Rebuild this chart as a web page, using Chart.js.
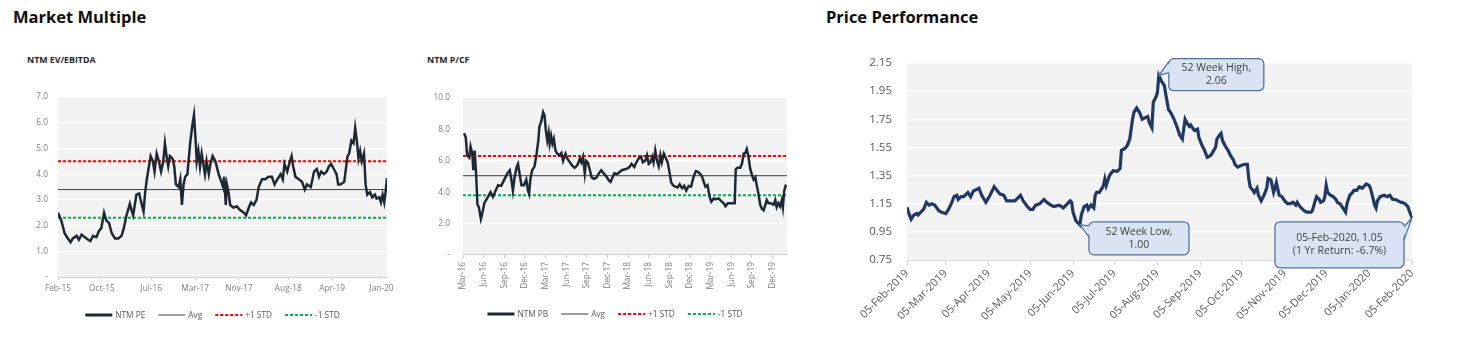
<!DOCTYPE html>
<html>
<head>
<meta charset="utf-8">
<script src="https://cdn.jsdelivr.net/npm/chart.js@4/dist/chart.umd.min.js"></script>
<style>
  body { margin: 0; width: 1462px; height: 347px; background: #fff; position: relative; overflow: hidden; font-family: "Open Sans", sans-serif; }
  .hdr { position: absolute; font-weight: 700; font-size: 16.5px; color: #0d0d0d; }
  .sub { position: absolute; font-weight: 700; font-size: 8.8px; color: #262626; }
  canvas { position: absolute; }
</style>
</head>
<body>
<div class="hdr" style="left:13px;top:5px">Market Multiple</div>
<div class="hdr" style="left:826px;top:5px">Price Performance</div>
<div class="sub" style="left:27px;top:54px">NTM EV/EBITDA</div>
<div class="sub" style="left:427px;top:54px">NTM P/CF</div>
<canvas id="evChart" width="400" height="250" style="left:0;top:80px"></canvas>
<canvas id="pcfChart" width="400" height="250" style="left:400px;top:80px"></canvas>
<canvas id="priceChart" width="662" height="307" style="left:800px;top:40px"></canvas>
<script>
// NTM EV/EBITDA, x = months since Feb-15
const evMonths = [0,0.6,1.2,1.8,2.3,2.7,3.4,3.8,4.3,4.9,5.5,5.9,6.4,7.0,7.5,7.9,8.4,8.8,9.3,9.8,
  10.4,11.0,11.6,12.0,12.5,13.1,13.4,13.7,14.3,14.8,15.3,15.6,15.9,16.2,16.5,16.9,17.3,17.6,18.0,18.4,
  18.8,19.2,19.5,19.8,20.1,20.4,20.9,21.2,21.5,22.0,22.3,22.6,22.9,23.2,23.6,24.1,24.5,24.8,25.1,25.3,
  25.6,25.9,26.2,26.5,26.8,27.1,27.5,27.8,28.2,28.7,29.3,29.8,30.1,30.3,30.6,30.8,31.1,31.4,32.0,32.6,
  33.2,33.9,34.3,34.8,35.2,35.7,36.2,36.6,37.2,37.8,38.4,39.0,39.5,40.0,40.6,41.0,41.3,41.8,42.3,42.6,
  42.9,43.3,43.9,44.5,45.0,45.4,46.1,46.7,47.2,47.6,48.0,48.5,49.0,49.4,49.8,50.3,50.8,51.1,51.5,52.2,
  52.8,53.1,53.5,53.9,54.2,54.5,54.8,55.1,55.4,55.8,56.1,56.4,56.9,57.3,57.8,58.1,58.6,58.9,59.2,59.5,
  59.8,60];
const evValues = [2.5,2.2,1.7,1.5,1.35,1.5,1.6,1.45,1.65,1.55,1.45,1.4,1.6,1.55,1.8,1.9,2.5,2.2,2.1,1.7,
  1.5,1.5,1.6,1.9,2.4,2.85,2.6,2.4,3.2,3.25,2.8,2.55,3.3,3.8,4.2,4.7,4.5,4.1,4.8,4.5,
  4.1,4.5,5.2,4.7,4.3,4.7,4.6,4.3,3.6,3.5,3.8,2.8,3.6,3.9,4.0,5.2,5.9,6.3,5.3,4.5,
  4.9,4.3,4.8,4.4,4.0,4.5,4.0,4.4,4.7,4.5,4.0,3.7,3.5,3.9,2.8,3.6,3.3,2.8,2.7,2.75,
  2.6,2.5,2.4,2.7,2.9,2.8,3.0,3.5,3.8,3.8,3.9,3.9,3.6,3.8,4.0,3.8,4.4,4.1,4.5,4.7,
  4.3,3.9,3.8,3.7,3.4,3.6,3.5,4.1,4.2,3.9,4.1,4.0,4.1,4.3,4.4,4.2,4.0,3.6,3.6,3.7,
  4.7,4.8,5.3,5.2,5.8,5.3,4.6,4.9,4.5,4.8,3.6,3.2,3.3,3.1,3.2,3.05,3.1,2.9,3.2,2.9,
  3.4,3.85];
const evTickMonths = [0, 8, 17, 25, 33, 42, 50, 59];
const evTickLabels = ['Feb-15', 'Oct-15', 'Jul-16', 'Mar-17', 'Nov-17', 'Aug-18', 'Apr-19', 'Jan-20'];
const evAvg = 3.4, evPlusStd = 4.5, evMinusStd = 2.3;

// NTM P/CF, x = months since Mar-16
const pcfMonths = [0.15,0.4,0.6,0.9,1.1,1.35,1.5,1.7,1.9,2.1,2.3,2.6,2.8,3.1,3.5,4.0,4.35,4.75,5.1,5.55,
  5.95,6.45,6.8,7.05,7.25,7.5,7.8,8.0,8.25,8.5,8.85,9.2,9.45,9.6,9.8,10.05,10.4,10.7,10.95,11.1,
  11.4,11.65,11.85,12.05,12.25,12.45,12.6,12.8,13.0,13.2,13.45,13.7,14.0,14.3,14.55,14.9,15.15,15.55,15.85,16.2,
  16.6,17.0,17.2,17.45,17.7,17.9,18.15,18.45,18.7,19.0,19.35,19.75,20.1,20.45,20.85,21.2,21.45,21.65,22.0,22.4,
  22.8,23.1,23.45,23.85,24.2,24.5,24.9,25.2,25.55,25.9,26.15,26.5,26.75,27.0,27.25,27.5,27.7,27.95,28.2,28.45,
  28.7,28.9,29.2,29.4,29.75,30.05,30.25,30.5,30.85,31.2,31.5,31.85,32.15,32.45,32.8,33.15,33.5,33.85,34.15,34.5,
  34.75,35.0,35.25,35.55,35.85,36.1,36.45,36.75,37.15,37.5,37.9,38.15,38.5,38.85,39.25,39.5,39.65,39.9,40.3,40.55,
  40.8,41.05,41.25,41.5,41.75,42.0,42.25,42.5,42.7,42.95,43.2,43.45,43.7,43.95,44.15,44.4,44.75,45.15,45.4,45.6,
  45.85,46.1,46.35,46.5,46.7,46.9,47.05];
const pcfValues = [7.75,7.5,6.35,6.2,6.9,6.45,5.4,6.65,5.2,3.2,3.05,2.3,2.65,3.3,3.6,4.0,3.7,4.1,4.45,4.4,
  4.75,5.2,5.4,4.75,4.1,4.95,5.6,5.8,5.1,4.45,4.45,4.8,4.1,3.9,4.85,5.4,5.65,6.45,7.3,8.15,
  8.55,9.1,8.9,7.9,7.3,7.8,7.1,7.6,7.1,7.4,6.65,6.45,6.35,6.5,6.0,6.45,6.15,5.9,5.7,5.55,
  5.7,6.15,5.9,6.25,5.2,6.0,5.9,5.4,4.95,4.85,4.9,5.2,5.4,5.2,5.0,4.75,4.65,4.85,5.2,5.15,
  5.3,5.4,5.45,5.5,5.6,5.8,5.6,5.9,6.15,6.25,5.9,6.0,6.35,5.8,5.9,6.25,5.9,6.65,6.0,5.65,
  6.35,5.9,6.45,6.25,5.9,5.2,4.65,4.45,4.35,4.3,4.5,4.25,4.4,4.1,4.4,4.35,4.95,5.35,5.3,5.15,
  5.0,4.65,4.35,4.45,3.7,3.4,3.6,3.55,3.6,3.45,3.3,3.1,3.3,3.3,3.3,3.3,5.45,5.55,5.55,5.8,
  6.45,6.5,6.75,6.25,5.5,5.1,4.8,4.95,4.45,3.9,3.2,2.95,2.85,3.2,3.5,3.3,3.3,3.2,3.5,3.05,
  3.3,3.1,3.5,3.05,4.1,4.4,4.35];
const pcfTickMonths = [0, 3, 6, 9, 12, 15, 18, 21, 24, 27, 30, 33, 36, 39, 42, 45];
const pcfTickLabels = ['Mar-16', 'Jun-16', 'Sep-16', 'Dec-16', 'Mar-17', 'Jun-17', 'Sep-17', 'Dec-17',
  'Mar-18', 'Jun-18', 'Sep-18', 'Dec-18', 'Mar-19', 'Jun-19', 'Sep-19', 'Dec-19'];
const pcfAvg = 5.05, pcfPlusStd = 6.3, pcfMinusStd = 3.8;

// share price, x = days since 05-Feb-2019
const priceDays = [0,1,3,5,7,8,10,12,14,16,18,20,23,25,28,30,32,34,36,37,
  39,41,43,44,46,48,49,52,54,57,60,63,65,67,70,72,75,78,82,84,
  87,89,91,93,96,99,101,104,106,110,113,116,118,119,120,122,123,125,126,128,
  130,131,133,135,136,137,139,141,142,143,144,146,147,149,152,154,155,157,159,161,
  163,164,166,168,170,172,174,175,177,178,180,181,182,
  184,186,187,189,191,193,195,197,199,200,201,202,204,205,207,208,210,211,213,215,
  217,219,220,223,224,226,227,228,230,232,234,236,237,239,241,244,246,247,248,250,
  251,253,254,256,258,260,261,263,265,266,267,269,271,273,275,277,279,281,282,284,
  287,289,292,293,295,296,298,299,301,302,303,304,306,308,310,311,313,315,317,318,
  320,322,323,325,327,329,331,332,334,335,337,338,339,340,342,345,347,349,351,353,
  355,357,358,360,362,363,365];
const priceValues = [1.125,1.09,1.04,1.07,1.08,1.07,1.09,1.11,1.16,1.14,1.15,1.14,1.10,1.09,1.08,1.11,1.15,1.20,1.21,1.18,
  1.20,1.20,1.22,1.23,1.20,1.24,1.245,1.26,1.21,1.16,1.21,1.27,1.245,1.22,1.21,1.17,1.17,1.17,1.21,1.17,
  1.13,1.11,1.11,1.14,1.15,1.18,1.16,1.14,1.13,1.14,1.12,1.15,1.17,1.16,1.09,1.03,1.02,1.00,1.07,1.13,
  1.14,1.11,1.14,1.12,1.21,1.23,1.23,1.26,1.28,1.325,1.28,1.34,1.36,1.385,1.38,1.40,1.53,1.54,1.56,1.61,
  1.75,1.80,1.83,1.80,1.75,1.76,1.77,1.73,1.69,1.87,1.91,1.94,2.06,
  2.02,1.99,1.93,1.82,1.79,1.75,1.70,1.64,1.61,1.68,1.75,1.73,1.70,1.71,1.68,1.67,1.68,1.62,1.57,1.53,
  1.48,1.49,1.50,1.55,1.61,1.64,1.65,1.60,1.56,1.53,1.49,1.46,1.43,1.41,1.42,1.43,1.43,1.33,1.27,1.245,
  1.23,1.26,1.21,1.17,1.21,1.26,1.33,1.32,1.23,1.26,1.30,1.21,1.20,1.17,1.15,1.15,1.16,1.14,1.16,1.13,
  1.10,1.09,1.09,1.10,1.17,1.20,1.18,1.16,1.17,1.20,1.28,1.23,1.21,1.20,1.18,1.16,1.15,1.12,1.09,1.15,
  1.21,1.23,1.245,1.245,1.27,1.26,1.28,1.29,1.28,1.26,1.18,1.14,1.12,1.17,1.20,1.21,1.20,1.21,1.18,1.18,
  1.17,1.16,1.16,1.15,1.13,1.10,1.05];
const priceTickDays = [0, 28, 59, 89, 120, 150, 181, 212, 242, 273, 303, 334, 365];
const priceTickLabels = ['05-Feb-2019', '05-Mar-2019', '05-Apr-2019', '05-May-2019', '05-Jun-2019', '05-Jul-2019',
  '05-Aug-2019', '05-Sep-2019', '05-Oct-2019', '05-Nov-2019', '05-Dec-2019', '05-Jan-2020', '05-Feb-2020'];

const toPoints = (xs, ys) => xs.map((x, i) => ({ x: x, y: ys[i] }));
const flat = (x0, x1, v) => [{ x: x0, y: v }, { x: x1, y: v }];

// grey plot background
const plotBg = {
  id: 'plotBg',
  beforeDraw(chart, args, opts) {
    const a = chart.chartArea, ctx = chart.ctx;
    ctx.save();
    ctx.fillStyle = opts.color || '#f2f2f2';
    ctx.fillRect(a.left, a.top, a.right - a.left, a.bottom - a.top);
    ctx.restore();
  }
};

// legend drawn as short line samples under the x axis
const lineLegend = {
  id: 'lineLegend',
  afterDraw(chart, args, opts) {
    const ctx = chart.ctx, a = chart.chartArea;
    const sw = 27, gap = 3, space = 13;
    ctx.save();
    ctx.font = opts.font;
    const items = chart.data.datasets.map(ds => ({ ds: ds, w: sw + gap + ctx.measureText(ds.label).width }));
    const total = items.reduce((s, it) => s + it.w, 0) + space * (items.length - 1);
    let x = (a.left + a.right) / 2 - total / 2 + opts.shiftX;
    const y = a.bottom + opts.offsetY;
    items.forEach(it => {
      ctx.beginPath();
      ctx.strokeStyle = it.ds.borderColor;
      ctx.lineWidth = it.ds.legendWidth || it.ds.borderWidth;
      ctx.setLineDash(it.ds.borderDash || []);
      ctx.moveTo(x, y);
      ctx.lineTo(x + sw, y);
      ctx.stroke();
      ctx.setLineDash([]);
      ctx.fillStyle = opts.color;
      ctx.textBaseline = 'middle';
      ctx.textAlign = 'left';
      ctx.fillText(it.ds.label, x + sw + gap, y + 0.5);
      x += it.w + space;
    });
    ctx.restore();
  }
};

// speech-bubble labels pointing at a data point
const callouts = {
  id: 'callouts',
  afterDatasetsDraw(chart, args, opts) {
    const ctx = chart.ctx, xs = chart.scales.x, ys = chart.scales.y;
    ctx.save();
    opts.items.forEach(c => {
      const px = xs.getPixelForValue(priceDays[c.index]);
      const py = ys.getPixelForValue(priceValues[c.index]);
      const bx = px + c.dx, by = py + c.dy;
      ctx.fillStyle = '#dae3f3';
      ctx.strokeStyle = '#50739c';
      ctx.lineWidth = 1.3;
      ctx.beginPath();
      ctx.roundRect(bx, by, c.w, c.h, 5);
      ctx.fill();
      ctx.stroke();
      const b1 = [bx + c.base[0][0], by + c.base[0][1]];
      const b2 = [bx + c.base[1][0], by + c.base[1][1]];
      const inset = c.base[0][0] === 0 ? 2 : -2;
      ctx.beginPath();
      ctx.moveTo(b1[0] + inset, b1[1]);
      ctx.lineTo(px, py);
      ctx.lineTo(b2[0] + inset, b2[1]);
      ctx.closePath();
      ctx.fill();
      ctx.beginPath();
      ctx.moveTo(b1[0], b1[1]);
      ctx.lineTo(px, py);
      ctx.lineTo(b2[0], b2[1]);
      ctx.stroke();
      ctx.fillStyle = '#404040';
      ctx.font = '10.5px "Open Sans"';
      ctx.textAlign = 'center';
      ctx.textBaseline = 'middle';
      const lh = 13;
      const y0 = by + c.h / 2 - (c.lines.length - 1) * lh / 2;
      c.lines.forEach((t, i) => ctx.fillText(t, bx + c.w / 2, y0 + i * lh));
    });
    ctx.restore();
  }
};

const smallFont = { family: 'Open Sans', size: 8.3 };
const tickGrey = '#7f7f7f';

function multipleChart(id, cfg) {
  return new Chart(document.getElementById(id), {
    type: 'line',
    data: {
      datasets: [
        { label: cfg.name, data: toPoints(cfg.months, cfg.values), borderColor: '#1e2833', borderWidth: 2.5, legendWidth: 3, pointRadius: 0, tension: 0 },
        { label: 'Avg', data: flat(0, cfg.xMax, cfg.avg), borderColor: '#3f3f3f', borderWidth: 1, pointRadius: 0 },
        { label: '+1 STD', data: flat(0, cfg.xMax, cfg.plus), borderColor: '#ff0000', borderWidth: 2, borderDash: [3, 2], pointRadius: 0 },
        { label: '-1 STD', data: flat(0, cfg.xMax, cfg.minus), borderColor: '#00b050', borderWidth: 2, borderDash: [3, 2], pointRadius: 0 }
      ]
    },
    options: {
      responsive: false,
      animation: false,
      layout: { padding: cfg.padding },
      plugins: {
        legend: { display: false },
        tooltip: { enabled: false },
        plotBg: { color: '#f2f2f2' },
        lineLegend: { font: '8.3px "Open Sans"', color: '#595959', offsetY: cfg.legendY, shiftX: -10 }
      },
      scales: {
        x: {
          type: 'linear', min: 0, max: cfg.xMax,
          afterBuildTicks: s => { s.ticks = cfg.tickMonths.map(v => ({ value: v })); },
          afterFit: s => { s.height = cfg.xHeight; },
          ticks: { autoSkip: false, minRotation: cfg.rotation, maxRotation: cfg.rotation, padding: 4, color: tickGrey, font: smallFont,
            callback: (v, i) => cfg.tickLabels[i] },
          grid: { drawOnChartArea: false, drawTicks: true, tickLength: 3, color: '#d0d0d0' },
          border: { display: true, color: '#d0d0d0' }
        },
        y: {
          min: 0, max: cfg.yMax,
          afterFit: s => { s.width = 40; },
          ticks: { stepSize: cfg.step, padding: cfg.yPad, color: tickGrey, font: smallFont,
            callback: v => v === 0 ? '-' : v.toFixed(1) },
          grid: { color: c => c.tick.value === 0 ? 'rgba(0,0,0,0)' : '#ffffff', lineWidth: 1.2, drawTicks: false },
          border: { display: false }
        }
      }
    },
    plugins: [plotBg, lineLegend]
  });
}

multipleChart('evChart', {
  name: 'NTM PE', months: evMonths, values: evValues, xMax: 60,
  avg: evAvg, plus: evPlusStd, minus: evMinusStd,
  tickMonths: evTickMonths, tickLabels: evTickLabels, rotation: 0,
  yMax: 7, step: 1, yPad: 10, xHeight: 20, legendY: 38,
  padding: { left: 18, right: 13, top: 17, bottom: 33 }
});

multipleChart('pcfChart', {
  name: 'NTM PB', months: pcfMonths, values: pcfValues, xMax: 47.1,
  avg: pcfAvg, plus: pcfPlusStd, minus: pcfMinusStd,
  tickMonths: pcfTickMonths, tickLabels: pcfTickLabels, rotation: 90,
  yMax: 10, step: 2, yPad: 13, xHeight: 42, legendY: 59,
  padding: { left: 23, right: 13, top: 17, bottom: 33 }
});

// price callouts: highest, lowest and latest close
const hiIdx = priceValues.indexOf(Math.max(...priceValues));
const loIdx = priceValues.indexOf(Math.min(...priceValues));
const lastIdx = priceValues.length - 1;
const yrReturn = (priceValues[lastIdx] / priceValues[0] - 1) * 100;

new Chart(document.getElementById('priceChart'), {
  type: 'line',
  data: {
    datasets: [{ label: 'Price', data: toPoints(priceDays, priceValues), borderColor: '#1f3864', borderWidth: 3.2, pointRadius: 0, tension: 0 }]
  },
  options: {
    responsive: false,
    animation: false,
    layout: { padding: { left: 47, right: 50, top: 23, bottom: 0 } },
    plugins: {
      legend: { display: false },
      tooltip: { enabled: false },
      plotBg: { color: '#f2f2f2' },
      callouts: {
        items: [
          { index: hiIdx, dx: 10, dy: -17, w: 95, h: 32, base: [[0, 3], [0, 14]],
            lines: ['52 Week High,', priceValues[hiIdx].toFixed(2)] },
          { index: loIdx, dx: 9, dy: -3, w: 100, h: 33, base: [[0, 4], [0, 15]],
            lines: ['52 Week Low,', priceValues[loIdx].toFixed(2)] },
          { index: lastIdx, dx: -137, dy: 4, w: 129, h: 46, base: [[129, 5], [129, 18]],
            lines: [priceTickLabels[priceTickLabels.length - 1] + ', ' + priceValues[lastIdx].toFixed(2),
                    '(1 Yr Return: ' + yrReturn.toFixed(1) + '%)'] }
        ]
      }
    },
    scales: {
      x: {
        type: 'linear', min: 0, max: 365,
        afterBuildTicks: s => { s.ticks = priceTickDays.map(v => ({ value: v })); },
        afterFit: s => { s.height = 87; },
        ticks: { autoSkip: false, minRotation: 45, maxRotation: 45, padding: 2, color: '#595959', font: { family: 'Open Sans', size: 11 },
          callback: (v, i) => priceTickLabels[i] },
        grid: { drawOnChartArea: false, drawTicks: true, tickLength: 5, color: '#d9d9d9' },
        border: { display: true, color: '#d9d9d9' }
      },
      y: {
        min: 0.75, max: 2.15,
        afterFit: s => { s.width = 60; },
        ticks: { stepSize: 0.2, padding: 15, color: '#595959', font: { family: 'Open Sans', size: 11.5 },
          callback: v => v.toFixed(2) },
        grid: { color: c => c.tick.value < 0.76 ? 'rgba(0,0,0,0)' : '#ffffff', lineWidth: 1.5, drawTicks: false },
        border: { display: false }
      }
    }
  },
  plugins: [plotBg, callouts]
});
</script>
</body>
</html>
